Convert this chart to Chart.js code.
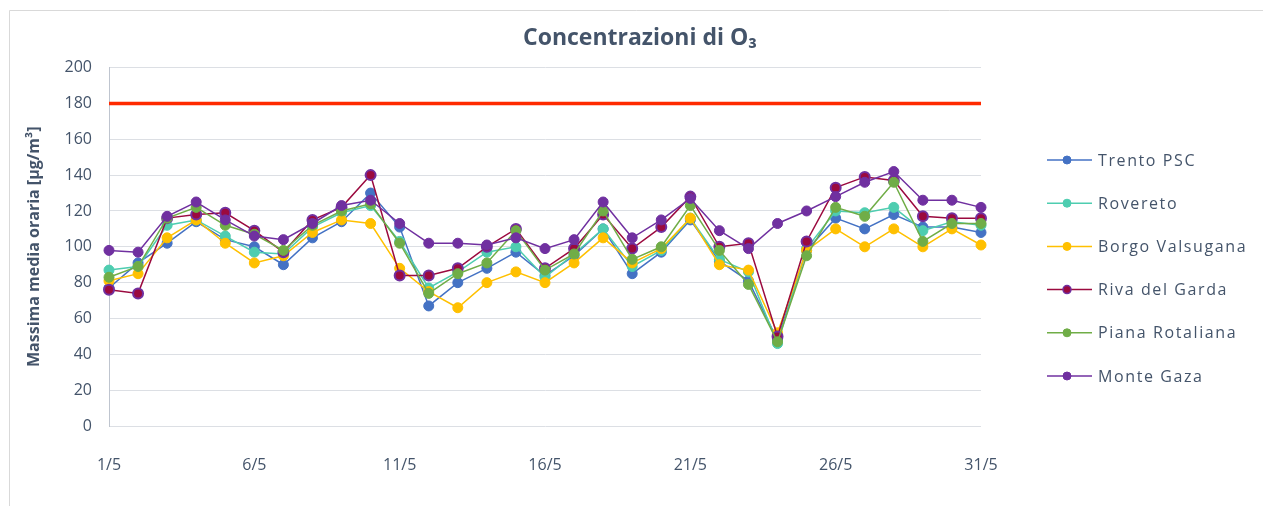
<!DOCTYPE html>
<html><head><meta charset="utf-8">
<script src="https://cdn.jsdelivr.net/npm/chart.js@4/dist/chart.umd.min.js"></script>
<style>html,body{margin:0;padding:0;background:#fff;}</style>
</head><body>
<canvas id="c" width="1263" height="506"></canvas>
<script>
const days = ["1/5","2/5","3/5","4/5","5/5","6/5","7/5","8/5","9/5","10/5","11/5","12/5","13/5","14/5","15/5","16/5","17/5","18/5","19/5","20/5","21/5","22/5","23/5","24/5","25/5","26/5","27/5","28/5","29/5","30/5","31/5"];
const tickLabels = ["1/5","6/5","11/5","16/5","21/5","26/5","31/5"];
const seriesNames = ["Trento PSC","Rovereto","Borgo Valsugana","Riva del Garda","Piana Rotaliana","Monte Gaza"];
const trento   = [77,91,102,114,104,100,90,105,114,130,111,67,80,88,97,84,95,110,85,97,115,92,81,48,98,116,110,118,111,111,108];
const rovereto = [87,89,112,115,106,97,96,111,119,123,103,77,86,97,100,83,96,110,89,98,116,93,86,46,99,120,119,122,109,114,112];
const borgo    = [81,85,105,115,102,91,95,108,115,113,88,75,66,80,86,80,91,105,91,99,116,90,87,52,98,110,100,110,100,110,101];
const riva     = [76,74,116,118,119,109,97,115,122,140,84,84,88,100,110,88,99,118,99,111,128,100,102,50,103,133,139,137,117,116,116];
const piana    = [83,89,116,122,112,107,98,112,120,124,102,74,85,91,109,87,96,120,93,100,123,98,79,47,95,122,117,136,103,113,113];
const monte    = [98,97,117,125,115,106,104,113,123,126,113,102,102,101,105,99,104,125,105,115,127,109,99,113,120,128,136,142,126,126,122];
const limit    = [180,180,180,180,180,180,180,180,180,180,180,180,180,180,180,180,180,180,180,180,180,180,180,180,180,180,180,180,180,180,180];
const yTitle = "Massima media oraria [µg/m³]";
const chartTitle = "Concentrazioni di O₃";

const TXT = '#44546A';
const FONT = "'Open Sans', 'Liberation Sans', sans-serif";

function series(name, data, color, fill, border, order) {
  return {label: name, data, borderColor: color, backgroundColor: fill,
    pointBackgroundColor: fill, pointBorderColor: border, pointBorderWidth: border === fill ? 1 : 2,
    borderWidth: 1.5, pointRadius: 5, pointHoverRadius: 5, tension: 0, order, legendItem: true};
}
const datasets = [
  series(seriesNames[0], trento, '#4472C4', '#4472C4', '#4472C4', 6),
  series(seriesNames[1], rovereto, '#4ECDB0', '#4ECDB0', '#4ECDB0', 5),
  series(seriesNames[2], borgo, '#FFC000', '#FFC000', '#FFC000', 4),
  series(seriesNames[3], riva, '#9B0A3F', '#9B0A3F', '#7030A0', 3),
  series(seriesNames[4], piana, '#70AD47', '#70AD47', '#70AD47', 2),
  series(seriesNames[5], monte, '#7030A0', '#7030A0', '#7030A0', 1),
  {label: 'Limite', data: limit, borderColor: '#FF2A00', borderWidth: 3.5, pointRadius: 0, order: 0, legendItem: false}
];

const frame = {
  id: 'frame',
  beforeDraw(chart) {
    const ctx = chart.ctx;
    ctx.save();
    ctx.fillStyle = '#fff';
    ctx.fillRect(0, 0, chart.width, chart.height);
    ctx.strokeStyle = '#D9D9D9';
    ctx.lineWidth = 1;
    ctx.beginPath();
    ctx.moveTo(9.5, chart.height);
    ctx.lineTo(9.5, 10.5);
    ctx.lineTo(chart.width, 10.5);
    ctx.stroke();
    ctx.restore();
  }
};

const legendPlugin = {
  id: 'sideLegend',
  afterDraw(chart) {
    const ctx = chart.ctx;
    const x0 = 1047, x1 = 1092, xd = 1067, xt = 1098;
    let y = 160;
    ctx.save();
    chart.data.datasets.forEach(ds => {
      if (!ds.legendItem) return;
      ctx.strokeStyle = ds.borderColor;
      ctx.lineWidth = 1.5;
      ctx.beginPath(); ctx.moveTo(x0, y); ctx.lineTo(x1, y); ctx.stroke();
      ctx.beginPath(); ctx.arc(xd, y, 4, 0, Math.PI * 2);
      ctx.fillStyle = ds.pointBackgroundColor; ctx.fill();
      ctx.lineWidth = ds.pointBorderWidth > 1 ? 1.5 : 1;
      ctx.strokeStyle = ds.pointBorderColor; ctx.stroke();
      ctx.fillStyle = TXT;
      ctx.font = "16px " + FONT;
      ctx.letterSpacing = '1.6px';
      ctx.textBaseline = 'middle';
      ctx.textAlign = 'left';
      ctx.fillText(ds.label, xt, y + 1);
      y += 43.2;
    });
    ctx.restore();
  }
};

new Chart(document.getElementById('c'), {
  type: 'line',
  data: {labels: days, datasets},
  plugins: [frame, legendPlugin],
  options: {
    responsive: false, animation: false, devicePixelRatio: 1,
    layout: {padding: {left: 21, right: 4, top: 0, bottom: 0}},
    plugins: {
      legend: {display: false},
      tooltip: {enabled: false},
      title: {display: true, text: chartTitle, color: TXT,
        font: {family: FONT, size: 23, weight: 'bold'}, padding: {top: 25, bottom: 15}}
    },
    scales: {
      x: {
        offset: false,
        grid: {display: false},
        border: {display: false},
        ticks: {autoSkip: false, maxRotation: 0, minRotation: 0, padding: 22, color: TXT,
          font: {family: FONT, size: 16},
          callback: (v, i) => tickLabels.includes(days[i]) ? days[i] : ''},
        afterFit: s => { s.height = 80; }
      },
      y: {
        min: 0, max: 200,
        ticks: {stepSize: 20, padding: 17, color: TXT, font: {family: FONT, size: 16}},
        grid: {color: '#DCDFE4', drawTicks: false, lineWidth: 1},
        border: {display: true, color: '#BFC5CF'},
        title: {display: true, text: yTitle, color: TXT, font: {family: FONT, size: 16, weight: 'bold'}},
        afterFit: s => { s.width = 88; }
      },
      legendSpace: {
        type: 'linear', position: 'right', display: true,
        grid: {display: false}, border: {display: false},
        ticks: {display: false},
        afterFit: s => { s.width = 278; }
      }
    }
  }
});
</script>
</body></html>
